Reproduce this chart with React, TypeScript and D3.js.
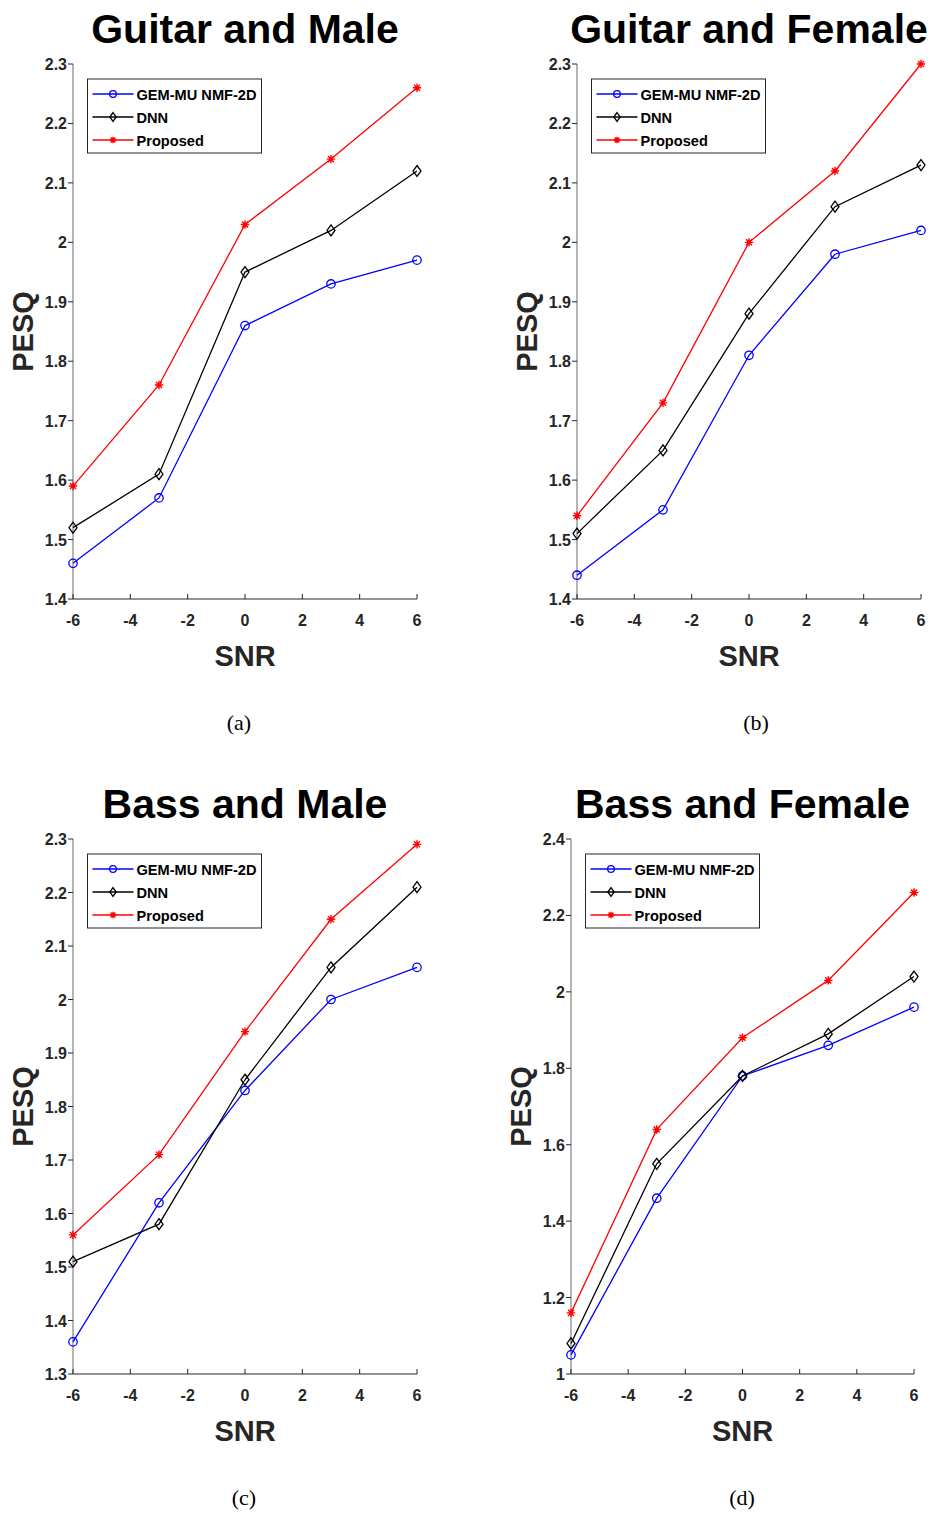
import React from "react";
import * as d3 from "d3";

const snr = [-6, -3, 0, 3, 6];
const xTicks = [-6, -4, -2, 0, 2, 4, 6];
const seriesNames = ["GEM-MU NMF-2D", "DNN", "Proposed"];
const seriesColors = ["#0000ff", "#000000", "#ff0000"];
const seriesMarkers = ["circle", "diamond", "asterisk"];

const titles = ["Guitar and Male", "Guitar and Female", "Bass and Male", "Bass and Female"];
const captions = ["(a)", "(b)", "(c)", "(d)"];

const aGem = [1.46, 1.57, 1.86, 1.93, 1.97];
const aDnn = [1.52, 1.61, 1.95, 2.02, 2.12];
const aProp = [1.59, 1.76, 2.03, 2.14, 2.26];

const bGem = [1.44, 1.55, 1.81, 1.98, 2.02];
const bDnn = [1.51, 1.65, 1.88, 2.06, 2.13];
const bProp = [1.54, 1.73, 2.0, 2.12, 2.3];

const cGem = [1.36, 1.62, 1.83, 2.0, 2.06];
const cDnn = [1.51, 1.58, 1.85, 2.06, 2.21];
const cProp = [1.56, 1.71, 1.94, 2.15, 2.29];

const dGem = [1.05, 1.46, 1.78, 1.86, 1.96];
const dDnn = [1.08, 1.55, 1.78, 1.89, 2.04];
const dProp = [1.16, 1.64, 1.88, 2.03, 2.26];

const yTicksA = [1.4, 1.5, 1.6, 1.7, 1.8, 1.9, 2.0, 2.1, 2.2, 2.3];
const yTicksC = [1.3, 1.4, 1.5, 1.6, 1.7, 1.8, 1.9, 2.0, 2.1, 2.2, 2.3];
const yTicksD = [1.0, 1.2, 1.4, 1.6, 1.8, 2.0, 2.2, 2.4];

const panels = [
  { series: [aGem, aDnn, aProp], yTicks: yTicksA, yDom: [1.4, 2.3], box: { l: 73, r: 417, t: 64, b: 599 }, cap: { x: 239, y: 730 } },
  { series: [bGem, bDnn, bProp], yTicks: yTicksA, yDom: [1.4, 2.3], box: { l: 577, r: 921, t: 64, b: 599 }, cap: { x: 756, y: 730 } },
  { series: [cGem, cDnn, cProp], yTicks: yTicksC, yDom: [1.3, 2.3], box: { l: 73, r: 417, t: 839, b: 1374 }, cap: { x: 244, y: 1505 } },
  { series: [dGem, dDnn, dProp], yTicks: yTicksD, yDom: [1.0, 2.4], box: { l: 571, r: 914, t: 839, b: 1374 }, cap: { x: 742, y: 1505 } },
];

const FONT = "'Liberation Sans', Arial, Helvetica, sans-serif";
const TXT = "#262626";

function Marker({ type, x, y, color, s = 1 }: { type: string; x: number; y: number; color: string; s?: number }) {
  if (type === "circle") {
    return <circle cx={x} cy={y} r={4.2 * s} fill="none" stroke={color} strokeWidth={1.3} />;
  }
  if (type === "diamond") {
    const w = 4 * s, h = 5.5 * s;
    return (
      <path
        d={`M${x},${y - h}L${x + w},${y}L${x},${y + h}L${x - w},${y}Z`}
        fill="none"
        stroke={color}
        strokeWidth={1.3}
      />
    );
  }
  const r = 4.2 * s;
  const r2 = r * 0.72;
  return (
    <path
      d={`M${x},${y - r}L${x},${y + r}M${x - r},${y}L${x + r},${y}M${x - r2},${y - r2}L${x + r2},${y + r2}M${x - r2},${y + r2}L${x + r2},${y - r2}`}
      stroke={color}
      strokeWidth={1.4}
      fill="none"
    />
  );
}

function fmt(v: number) {
  return d3.format("~g")(Number(v.toFixed(2)));
}

function Panel({ p, idx }: { p: (typeof panels)[number]; idx: number }) {
  const { l, r, t, b } = p.box;
  const x = d3.scaleLinear().domain([-6, 6]).range([l, r]);
  const y = d3.scaleLinear().domain(p.yDom).range([b, t]);
  const line = d3
    .line<number>()
    .x((_, i) => x(snr[i]))
    .y((v) => y(v));
  const cx = (l + r) / 2;
  const legL = l + 14.5;
  const legT = t + 15;
  const legW = 174;
  const legH = 74;
  return (
    <g>
      <text x={cx} y={t - 21} textAnchor="middle" fontFamily={FONT} fontWeight="bold" fontSize={41} fill="#000">
        {titles[idx]}
      </text>
      <line x1={l} y1={t} x2={l} y2={b} stroke="#8c8c8c" strokeWidth={1.3} />
      <line x1={l} y1={b} x2={r} y2={b} stroke="#6f6f6f" strokeWidth={1.3} />
      {p.yTicks.map((v) => (
        <g key={"y" + v}>
          <line x1={l - 5} y1={y(v)} x2={l} y2={y(v)} stroke={TXT} strokeWidth={1} />
          <text x={l - 6} y={y(v) + 6} textAnchor="end" fontFamily={FONT} fontWeight="bold" fontSize={16} fill={TXT}>
            {fmt(v)}
          </text>
        </g>
      ))}
      {xTicks.map((v) => (
        <g key={"x" + v}>
          <line x1={x(v)} y1={b} x2={x(v)} y2={b - 5} stroke={TXT} strokeWidth={1} />
          <text x={x(v)} y={b + 27} textAnchor="middle" fontFamily={FONT} fontWeight="bold" fontSize={16} fill={TXT}>
            {v}
          </text>
        </g>
      ))}
      <text x={cx} y={b + 67} textAnchor="middle" fontFamily={FONT} fontWeight="bold" fontSize={29} fill={TXT}>
        SNR
      </text>
      <text
        transform={`translate(${l - 40},${(t + b) / 2}) rotate(-90)`}
        textAnchor="middle"
        fontFamily={FONT}
        fontWeight="bold"
        fontSize={29}
        fill={TXT}
      >
        PESQ
      </text>
      {p.series.map((s, si) => (
        <g key={"s" + si}>
          <path d={line(s) || ""} fill="none" stroke={seriesColors[si]} strokeWidth={1.3} />
          {s.map((v, i) => (
            <Marker key={i} type={seriesMarkers[si]} x={x(snr[i])} y={y(v)} color={seriesColors[si]} />
          ))}
        </g>
      ))}
      <rect x={legL} y={legT} width={legW} height={legH} fill="#fff" stroke="#262626" strokeWidth={1} />
      {seriesNames.map((n, i) => {
        const ly = legT + 15 + i * 23;
        return (
          <g key={n}>
            <line x1={legL + 5} y1={ly} x2={legL + 46} y2={ly} stroke={seriesColors[i]} strokeWidth={1.3} />
            <Marker type={seriesMarkers[i]} x={legL + 25.5} y={ly} color={seriesColors[i]} s={0.8} />
            <text x={legL + 49} y={ly + 5.5} fontFamily={FONT} fontWeight="bold" fontSize={14.6} fill="#000">
              {n}
            </text>
          </g>
        );
      })}
      <text x={p.cap.x} y={p.cap.y} textAnchor="middle" fontFamily="'Liberation Serif', 'Times New Roman', serif" fontSize={22} fill="#000">
        {captions[idx]}
      </text>
    </g>
  );
}

export default function App() {
  return (
    <svg width={935} height={1514} style={{ position: "absolute", left: 0, top: 0, background: "#fff" }}>
      <rect width={935} height={1514} fill="#fff" />
      {panels.map((p, i) => (
        <Panel key={i} p={p} idx={i} />
      ))}
    </svg>
  );
}
